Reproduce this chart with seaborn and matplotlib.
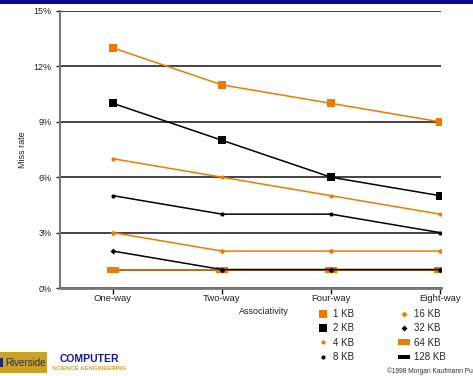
import matplotlib
matplotlib.use("Agg")
import matplotlib.pyplot as plt
from matplotlib.lines import Line2D
from matplotlib.patches import Rectangle
import seaborn as sns
import pandas as pd

# Miss rate (%) by associativity for each cache size
associativity = ["One-way", "Two-way", "Four-way", "Eight-way"]
cache_sizes = ["1 KB", "2 KB", "4 KB", "8 KB", "16 KB", "32 KB", "64 KB", "128 KB"]
kb1 = [13, 11, 10, 9]
kb2 = [10, 8, 6, 5]
kb4 = [7, 6, 5, 4]
kb8 = [5, 4, 4, 3]
kb16 = [3, 2, 2, 2]
kb32 = [2, 1, 1, 1]
kb64 = [1, 1, 1, 1]
kb128 = [0.95, 0.95, 0.95, 0.95]
y_ticks = [0, 3, 6, 9, 12, 15]

series = [kb1, kb2, kb4, kb8, kb16, kb32, kb64, kb128]

ORANGE = "#F07A00"
BLACK = "#000000"
flat = [(-1, -0.55), (1, -0.55), (1, 0.55), (-1, 0.55), (-1, -0.55)]
dash = [(-1, -0.3), (1, -0.3), (1, 0.3), (-1, 0.3), (-1, -0.3)]
styles = [
    dict(color=ORANGE, marker="s", ms=6),
    dict(color=BLACK, marker="s", ms=6),
    dict(color=ORANGE, marker="o", ms=3),
    dict(color=BLACK, marker="o", ms=3),
    dict(color=ORANGE, marker="D", ms=3),
    dict(color=BLACK, marker="D", ms=3),
    dict(color=ORANGE, marker=flat, ms=8),
    dict(color=BLACK, marker=dash, ms=8),
]

sns.set_theme(style="white")
plt.rcParams["font.family"] = ["Liberation Sans", "DejaVu Sans"]

W, H = 473, 376
fig = plt.figure(figsize=(W / 100, H / 100), dpi=100)
ax = fig.add_axes([60 / W, 1 - 288 / H, (441 - 60) / W, (288 - 11) / H])

draw_order = [7, 6, 5, 4, 3, 2, 1, 0]
for i in draw_order:
    df = pd.DataFrame({"x": range(len(associativity)), "y": series[i]})
    st = styles[i]
    sns.lineplot(data=df, x="x", y="y", ax=ax, color=st["color"], lw=1.1,
                 marker=st["marker"], markersize=st["ms"],
                 markeredgewidth=0, markerfacecolor=st["color"], zorder=3 + (8 - i) * 0.1)

ax.set_xlim(-0.486, 3.01)
ax.set_ylim(0, 15)
ax.set_yticks(y_ticks)
ax.set_yticklabels([f"{t}%" for t in y_ticks], fontsize=6.5, color="#222222")
ax.set_xticks(range(len(associativity)))
ax.set_xticklabels(associativity, fontsize=6.8, color="#222222")
ax.tick_params(axis="y", length=3, width=1, color="#222222", pad=3, left=True)
ax.tick_params(axis="x", length=4, width=1, color="#111111", pad=0.5, bottom=True)
ax.set_xlabel("")
ax.set_ylabel("")

ax.yaxis.grid(True, color="#222222", lw=1.2, zorder=1)
ax.xaxis.grid(False)
ax.set_axisbelow(True)
for s in ["top", "right"]:
    ax.spines[s].set_visible(False)
ax.spines["left"].set_color("#777777")
ax.spines["left"].set_linewidth(1.5)
ax.spines["bottom"].set_color("#777777")
ax.spines["bottom"].set_linewidth(2)

fig.text(264 / W, 1 - 312 / H, "Associativity", fontsize=6.5, ha="center", va="center", color="#222222")
fig.text(22 / W, 1 - 150 / H, "Miss rate", fontsize=6.5, ha="center", va="center", rotation=90, color="#222222")

# Legend: markers only, two columns
handles = [Line2D([], [], ls="none", color=st["color"], marker=st["marker"],
                  markersize=st["ms"] if i > 1 else 5.5, markeredgewidth=0)
           for i, st in enumerate(styles)]
fig.legend(handles, cache_sizes, ncol=2, loc="upper left", bbox_to_anchor=(318 / W, 1 - 309 / H),
           frameon=False, fontsize=7, handlelength=1.0, handletextpad=0.5,
           columnspacing=4.7, labelspacing=0.45, borderaxespad=0, borderpad=0)

fig.text(473 / W, 1 - 371 / H, "©1998 Morgan Kaufmann Pu", fontsize=4.8, ha="right", va="center", color="#333333")

# Header strip
fig.add_artist(Rectangle((0, 1 - 3.5 / H), 1, 3.5 / H, transform=fig.transFigure,
                         facecolor="#0A0A8A", edgecolor="none"))

# Publisher logo
fig.add_artist(Rectangle((0, 1 - 373 / H), 47 / W, 21 / H, transform=fig.transFigure,
                         facecolor="#C9A227", edgecolor="none"))
fig.add_artist(Rectangle((0, 1 - 367 / H), 3 / W, 9 / H, transform=fig.transFigure,
                         facecolor="#1A2A6A", edgecolor="none"))
fig.text(5 / W, 1 - 363 / H, "Riverside", fontsize=7, color="#2A2A50", ha="left", va="center")
fig.text(89 / W, 1 - 359 / H, "COMPUTER", fontsize=7.5, fontweight="bold", color="#1414A8",
         ha="center", va="center")
fig.text(89 / W, 1 - 369 / H, "SCIENCE &ENGINEERING", fontsize=4.3, fontweight="bold", color="#D4A520",
         ha="center", va="center")

fig.savefig("out.png", dpi=100)
